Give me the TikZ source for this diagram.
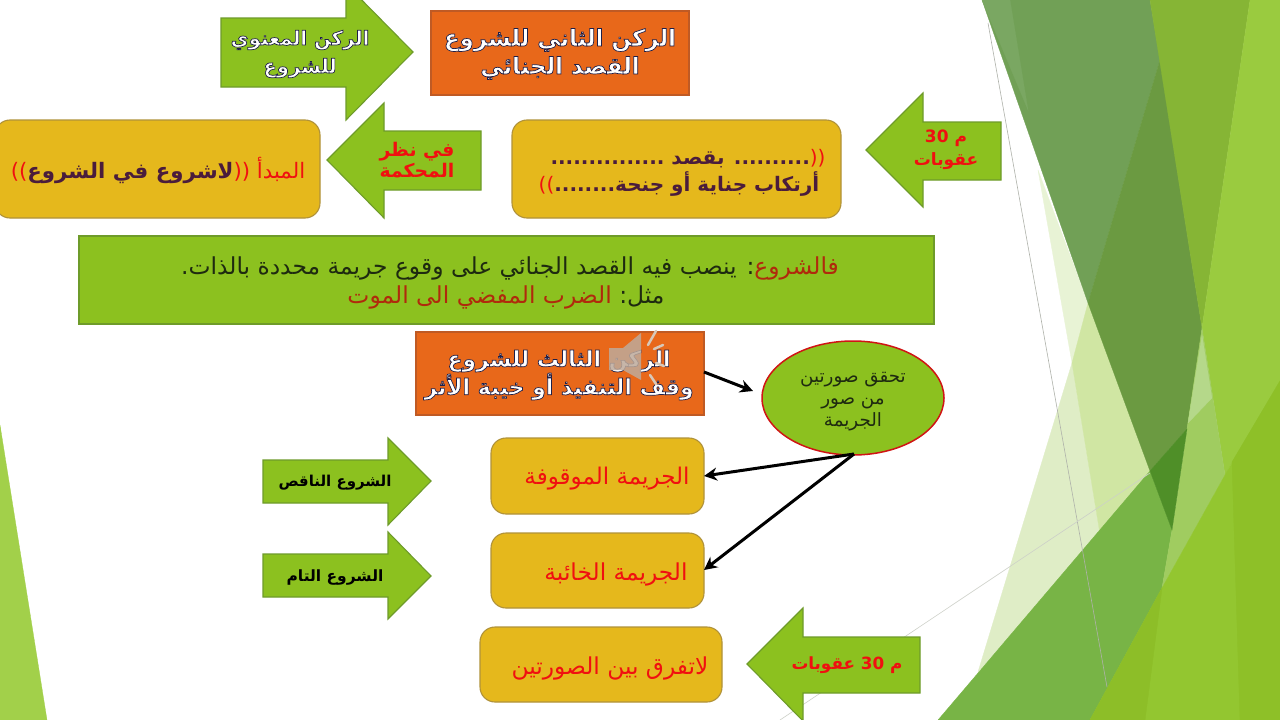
\documentclass[tikz,border=0pt]{standalone}
\usepackage{fontspec}
\newfontfamily\ar[Script=Arabic]{DejaVu Sans}
\TeXXeTstate=1
\usetikzlibrary{arrows.meta}
\definecolor{fgreen}{HTML}{8CC11F}
\definecolor{bgreen}{HTML}{6E9B2A}
\definecolor{forange}{HTML}{E8681A}
\definecolor{borange}{HTML}{BF5A24}
\definecolor{fyellow}{HTML}{E5B81C}
\definecolor{byellow}{HTML}{B0923A}
\definecolor{pur}{HTML}{4A1C3C}
\definecolor{redt}{HTML}{F01010}
\definecolor{brownt}{HTML}{B02A0C}
\definecolor{darkt}{HTML}{1E2A10}
\newcommand\RL[1]{\beginR #1\endR}
\newcommand\cRL[2]{{\color{#1}\RL{#2}}}
\newcommand\outl[2]{{\color{#1}\special{pdf:code 2 Tr 0.7 w 0.12 0.12 0.28 RG}#2\special{pdf:code 0 Tr}}}
\tikzset{
  x=1pt,y=-1pt,
  facet/.style={line width=0.3pt},
  shp/.style={fill=fgreen,draw=bgreen,line width=1.1pt},
  orangebox/.style={fill=forange,draw=borange,line width=1.1pt,inner sep=0pt},
  yellowbox/.style={fill=fyellow,draw=byellow,line width=1.1pt,rounded corners=15pt,inner sep=0pt},
  greenbox/.style={fill=fgreen,draw=bgreen,line width=1.1pt,inner sep=0pt},
  txt/.style={font=\ar,align=center,inner sep=0pt},
  conn/.style={draw=black,line width=3pt,-{Stealth[length=13pt,width=13pt]}},
  thinline/.style={line width=0.6pt}
}
\begin{document}
\begin{tikzpicture}
\useasboundingbox (0,0) rectangle (1280,720);
\fill[white] (0,0) rectangle (1280,720);
% background facets
\filldraw[facet,color={rgb,255:red,162;green,208;blue,74}] (0,425) -- (47,720) -- (0,720) -- cycle;
\filldraw[facet,color={rgb,255:red,232;green,243;blue,213}] (1038,170) -- (1088,303) -- (1072,363) -- cycle;
\filldraw[facet,color={rgb,255:red,223;green,237;blue,198}] (978,672) -- (1072,363) -- (1100,534) -- cycle;
\filldraw[facet,color={rgb,255:red,208;green,230;blue,163}] (1072,363) -- (1088,303) -- (1150,471) -- (1100,534) -- cycle;
\filldraw[facet,color={rgb,255:red,113;green,160;blue,86}] (982,0) -- (1150,0) -- (1160,60) -- (1088,303) -- cycle;
\filldraw[facet,color={rgb,255:red,122;green,167;blue,98}] (982,0) -- (1010,0) -- (1028,110) -- cycle;
\filldraw[facet,color={rgb,255:red,107;green,154;blue,65}] (1160,60) -- (1202,328) -- (1187,429) -- (1150,471) -- (1088,303) -- cycle;
\filldraw[facet,color={rgb,255:red,134;green,181;blue,53}] (1150,0) -- (1250,0) -- (1202,328) -- cycle;
\filldraw[facet,color={rgb,255:red,154;green,203;blue,63}] (1250,0) -- (1280,0) -- (1280,381) -- (1225,475) -- (1202,328) -- cycle;
\filldraw[facet,color={rgb,255:red,120;green,180;blue,70}] (938,720) -- (1150,471) -- (1172,530) -- (1162,588) -- (1090,720) -- cycle;
\filldraw[facet,color={rgb,255:red,160;green,204;blue,96}] (1202,328) -- (1225,475) -- (1162,588) -- (1172,530) -- (1187,429) -- cycle;
\filldraw[facet,color={rgb,255:red,181;green,216;blue,138}] (1202,335) -- (1212,398) -- (1188,423) -- cycle;
\filldraw[facet,color={rgb,255:red,79;green,143;blue,40}] (1150,471) -- (1187,429) -- (1172,530) -- cycle;
\filldraw[facet,color={rgb,255:red,147;green,198;blue,48}] (1090,720) -- (1162,588) -- (1225,475) -- (1280,381) -- (1280,720) -- cycle;
\filldraw[facet,color={rgb,255:red,141;green,190;blue,40}] (1090,720) -- (1162,588) -- (1145,720) -- cycle;
\filldraw[facet,color={rgb,255:red,142;green,192;blue,40}] (1232,462) -- (1280,381) -- (1280,720) -- (1240,720) -- cycle;
\draw[thinline,color={rgb,255:red,175;green,178;blue,170}] (988,23) -- (1107,687);
\draw[thinline,color={rgb,255:red,205;green,208;blue,200}] (780,720) -- (1150,473);
% arrows (shapes)
\draw[shp] (221,18) -- (346,18) -- (346,-16) -- (413,52) -- (346,120) -- (346,87) -- (221,87) -- cycle;
\draw[shp] (481,131) -- (384,131) -- (384,103) -- (327,160) -- (384,218) -- (384,190) -- (481,190) -- cycle;
\draw[shp] (1001,122) -- (923,122) -- (923,93) -- (866,150) -- (923,207) -- (923,180) -- (1001,180) -- cycle;
\draw[shp] (263,460) -- (388,460) -- (388,438) -- (431,481) -- (388,525) -- (388,503) -- (263,503) -- cycle;
\draw[shp] (263,554) -- (388,554) -- (388,532) -- (431,576) -- (388,619) -- (388,597) -- (263,597) -- cycle;
\draw[shp] (920,637) -- (803,637) -- (803,608) -- (747,664) -- (803,721) -- (803,693) -- (920,693) -- cycle;
% boxes
\draw[orangebox] (431,11) rectangle (689,95);
\node[txt,font=\ar\bfseries\fontsize{22.9}{28}\selectfont] (t1) at (560,54) {\outl{white}{\RL{الركن الثاني للشروع}}\\\outl{white}{\RL{القصد الجنائي}}};
\node[txt,font=\ar\bfseries\fontsize{19.6}{28}\selectfont] (ta1) at (300,54) {\outl{white}{\RL{الركن المعنوي}}\\\outl{white}{\RL{للشروع}}};
\draw[yellowbox] (-5,120) rectangle (320,218);
\node[txt,font=\ar\fontsize{21.3}{24}\selectfont] (t2) at (158,170) {\cRL{redt}{))}{\bfseries\cRL{pur}{لاشروع في الشروع}}\cRL{redt}{المبدأ ((}};
\node[txt,font=\ar\bfseries\fontsize{18.8}{21}\selectfont,text=redt] (ta2) at (417,160) {\RL{في نظر}\\\RL{المحكمة}};
\draw[yellowbox] (512,120) rectangle (841,218);
\node[txt,font=\ar\bfseries\fontsize{20}{27}\selectfont,text=pur] (t3) at (679,173) {\hspace*{18pt}\cRL{pur}{.......... بقصد ...............}{\mdseries\cRL{redt}{((}}\\{\mdseries\cRL{redt}{))}}\cRL{pur}{أرتكاب جناية أو جنحة........}};
\node[txt,font=\ar\bfseries\fontsize{17}{23}\selectfont,text=redt] (ta3) at (946,150) {\RL{م 30}\\\RL{عقوبات}};
\draw[greenbox] (79,236) rectangle (934,324);
\node[txt,font=\ar\fontsize{23.4}{29}\selectfont,text=darkt] (t4) at (510,283) {\cRL{darkt}{: ينصب فيه القصد الجنائي على وقوع جريمة محددة بالذات.}\cRL{brownt}{فالشروع}\\\hspace*{-8pt}\cRL{brownt}{الضرب المفضي الى الموت}\ \cRL{darkt}{مثل:}};
\draw[orangebox] (416,332) rectangle (704,415);
\node[txt,font=\ar\bfseries\fontsize{21.9}{28}\selectfont] (t5) at (559,375) {\outl{white}{\RL{الركن الثالث للشروع}}\\\outl{white}{\RL{وقف التنفيذ أو خيبة الأثر}}};
\draw[fill=fgreen,draw={rgb,255:red,208;green,20;blue,20},line width=1.5pt] (853,398) ellipse (91 and 57);
\node[txt,font=\ar\fontsize{18.3}{22}\selectfont,text=darkt] (t6) at (853,402) {\RL{تحقق صورتين}\\\RL{من صور}\\\RL{الجريمة}};
\draw[yellowbox] (491,438) rectangle (704,514);
\node[txt,font=\ar\fontsize{23}{24}\selectfont,text=redt] (t7) at (607,479) {\RL{الجريمة الموقوفة}};
\draw[yellowbox] (491,533) rectangle (704,608);
\node[txt,font=\ar\fontsize{23.3}{24}\selectfont,text=redt] (t8) at (616,574) {\RL{الجريمة الخائبة}};
\draw[yellowbox] (480,627) rectangle (722,702);
\node[txt,font=\ar\fontsize{23.3}{24}\selectfont,text=redt] (t9) at (610,668) {\RL{لاتفرق بين الصورتين}};
\node[txt,font=\ar\bfseries\fontsize{15}{20}\selectfont,text=black] (ta4) at (335,483) {\RL{الشروع الناقص}};
\node[txt,font=\ar\bfseries\fontsize{15.5}{20}\selectfont,text=black] (ta5) at (335,577) {\RL{الشروع التام}};
\node[txt,font=\ar\bfseries\fontsize{16.8}{20}\selectfont,text=redt] (ta6) at (847,665) {\RL{م 30 عقوبات}};
% connector anchors
\coordinate (o2e) at (704,372);
\coordinate (o2end) at (753,391);
\coordinate (elS) at (854,454);
\coordinate (b1e) at (704,476);
\coordinate (b2e) at (704,570);
\draw[conn] (o2e) -- (o2end);
\draw[conn] (elS) -- (b1e);
\draw[conn] (elS) -- (b2e);
% speaker icon
\fill[color={rgb,255:red,190;green,170;blue,155},opacity=.85] (609,348) -- (623,348) -- (641,333) -- (641,380) -- (623,370) -- (609,370) -- cycle;
\draw[color={rgb,255:red,215;green,200;blue,185},line width=2.5pt,line cap=round] (648,345) -- (656,331);
\draw[color={rgb,255:red,215;green,200;blue,185},line width=2.5pt,line cap=round] (654,349) -- (663,345);
\draw[color={rgb,255:red,215;green,200;blue,185},line width=2.5pt,line cap=round] (656,363) -- (664,366);
\draw[color={rgb,255:red,215;green,200;blue,185},line width=2.5pt,line cap=round] (650,375) -- (656,384);
\end{tikzpicture}
\end{document}
